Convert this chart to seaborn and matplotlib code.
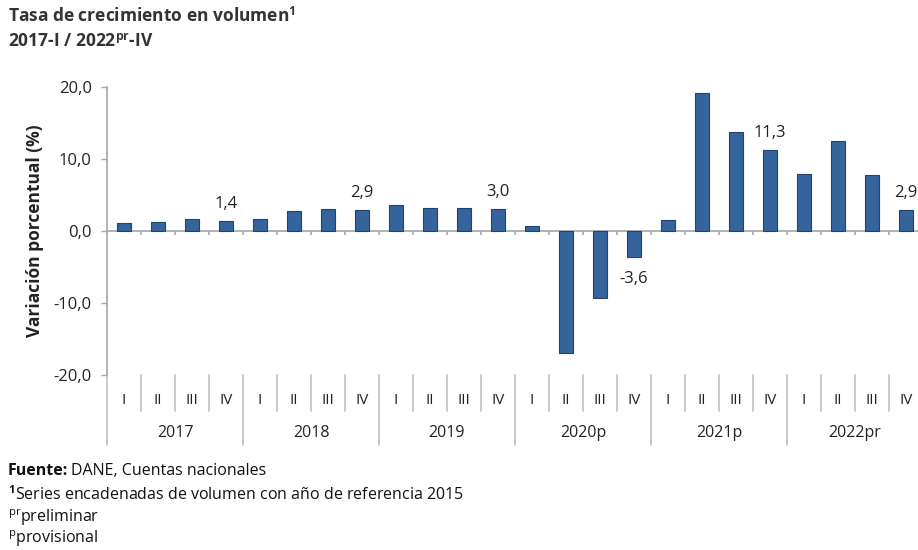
import seaborn as sns
import pandas as pd
import matplotlib.pyplot as plt
import matplotlib.transforms as mtransforms

sns.set_style("white")
plt.rcParams['font.family'] = ['Open Sans', 'DejaVu Sans']
plt.rcParams['mathtext.fontset'] = 'custom'
plt.rcParams['mathtext.rm'] = 'Open Sans'
plt.rcParams['mathtext.it'] = 'Open Sans'
plt.rcParams['mathtext.bf'] = 'Open Sans:bold'

years = ["2017", "2018", "2019", "2020p", "2021p", "2022pr"]
quarters = ["I", "II", "III", "IV"]
growth = [1.1, 1.3, 1.7, 1.4,
          1.7, 2.8, 3.0, 2.9,
          3.6, 3.2, 3.2, 3.0,
          0.7, -17.0, -9.3, -3.6,
          1.5, 19.1, 13.7, 11.3,
          7.9, 12.5, 7.8, 2.9]
labelled = {3: "1,4", 7: "2,9", 11: "3,0", 15: "-3,6", 19: "11,3", 23: "2,9"}

df = pd.DataFrame({
    "periodo": [f"{y}-{q}" for y in years for q in quarters],
    "valor": growth,
})

fig = plt.figure(figsize=(9.18, 5.5), dpi=100)
ax = fig.add_axes([107 / 918, 175 / 550, 816 / 918, 288 / 550])

sns.barplot(data=df, x="periodo", y="valor", color="#34639E", width=0.4,
            edgecolor="#22436C", linewidth=0.8, saturation=1, ax=ax)

n = len(df)
ax.set_xlim(-0.5, n - 0.5)
ax.set_ylim(-20, 20)
ax.set_yticks([-20, -10, 0, 10, 20])
ax.set_yticklabels(["-20,0", "-10,0", "0,0", "10,0", "20,0"])
ax.tick_params(axis="y", direction="out", length=4, width=1, color="#A6A6A6",
               pad=7, labelsize=12, labelcolor="#222222", left=True)
ax.set_xticks([])
ax.set_xlabel("")
ax.set_ylabel("")
for side in ["top", "right", "bottom"]:
    ax.spines[side].set_visible(False)
ax.spines["left"].set_color("#A6A6A6")
ax.spines["left"].set_linewidth(1.2)

# zero line with small ticks between categories
ax.axhline(0, color="#A6A6A6", lw=1.2, zorder=0)
ax.vlines([i + 0.5 for i in range(n)], -0.6, 0, color="#A6A6A6", lw=1.2)

# data labels
for i, txt in labelled.items():
    v = growth[i]
    off = 17 if v >= 0 else -22
    ax.annotate(txt, (i, v), xytext=(0, off), textcoords="offset pixels",
                ha="center", va="center", fontsize=12, color="#222222")

# category axis: quarters and years
trans = mtransforms.blended_transform_factory(ax.transData, ax.transAxes)
for i in range(n):
    ax.text(i, -0.087, quarters[i % 4], transform=trans, ha="center", va="center",
            fontsize=11, color="#222222", clip_on=False)
for k in range(n + 1):
    bottom = -0.243 if k % 4 == 0 else -0.125
    ax.plot([k - 0.5, k - 0.5], [0, bottom], transform=trans, color="#BFBFBF",
            lw=1.2, clip_on=False)
for j, y in enumerate(years):
    ax.text(4 * j + 1.5, -0.201, y, transform=trans, ha="center", va="center",
            fontsize=11.5, color="#222222", clip_on=False)

fig.text(35 / 918, 1 - 231 / 550, "Variación porcentual (%)", rotation=90,
         ha="center", va="center", fontsize=12.5, fontweight="bold", color="#222222")

fig.text(8 / 918, 1 - 16 / 550, r"Tasa de crecimiento en volumen$^{\mathbf{1}}$",
         ha="left", va="center", fontsize=12.5, fontweight="bold", color="#333333")
fig.text(8 / 918, 1 - 42 / 550, r"2017-I / 2022$^{\mathbf{pr}}$-IV",
         ha="left", va="center", fontsize=12.5, fontweight="bold", color="#333333")

src = fig.text(8 / 918, 1 - 471 / 550, "Fuente:", ha="left", va="center", fontsize=11.5,
               fontweight="bold", color="#111111")
fig.canvas.draw()
bb = src.get_window_extent()
fig.text(bb.x1 / 918 + 3 / 918, 1 - 471 / 550, "DANE, Cuentas nacionales", ha="left",
         va="center", fontsize=11.5, color="#111111")
fig.text(8 / 918, 1 - 495 / 550, r"$^{\mathbf{1}}$Series encadenadas de volumen con año de referencia 2015",
         ha="left", va="center", fontsize=11.5, color="#111111")
fig.text(8 / 918, 1 - 518 / 550, r"$^{\mathrm{pr}}$preliminar", ha="left", va="center",
         fontsize=11.5, color="#111111")
fig.text(8 / 918, 1 - 539 / 550, r"$^{\mathrm{p}}$provisional", ha="left", va="center",
         fontsize=11.5, color="#111111")

fig.savefig("out.png", dpi=100)
